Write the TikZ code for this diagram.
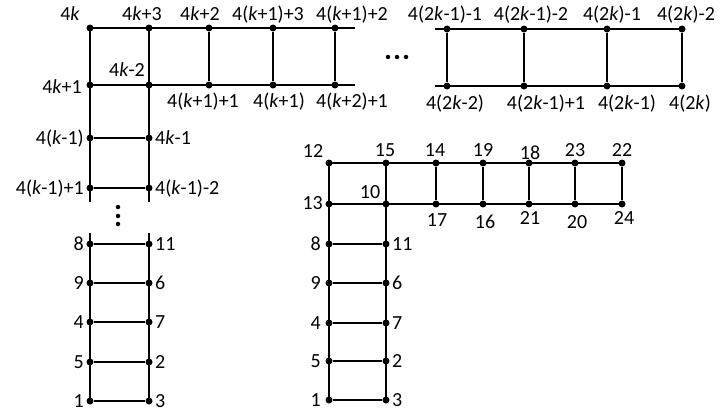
\documentclass[tikz,border=0pt]{standalone}
\usepackage{fontspec}
\setmainfont{Carlito}
\begin{document}
\tikzset{
  dot/.style={circle,fill=black,inner sep=0pt,minimum size=7pt},
  smalldot/.style={circle,fill=black,inner sep=0pt,minimum size=4.5pt},
  lab/.style={inner sep=0pt,text height=12.8pt,text depth=0pt,font=\fontsize{20}{23}\selectfont},
  labL/.style={lab,anchor=east},
  labR/.style={lab,anchor=west},
  edge/.style={line width=2pt,black},
}
\newcommand{\kk}{\textit{k}}
\begin{tikzpicture}[x=1pt,y=-1pt]
\useasboundingbox (0,0) rectangle (720,415);

% ---------- upper-left big figure ----------
\node[dot] (L0t) at (90,28) {};
\node[dot] (L1t) at (149,28) {};
\node[dot] (L2t) at (209,28) {};
\node[dot] (L3t) at (273,28) {};
\node[dot] (L4t) at (335,28) {};
\coordinate (LtE) at (355,28);
\node[dot] (L0b) at (90,85) {};
\node[dot] (L1b) at (149,85) {};
\node[dot] (L2b) at (209,85) {};
\node[dot] (L3b) at (273,85) {};
\node[dot] (L4b) at (335,85) {};
\coordinate (LbE) at (355,85);
\node[dot] (Lc1a) at (90,138) {};
\node[dot] (Lc1b) at (149,138) {};
\node[dot] (Lc2a) at (90,188) {};
\node[dot] (Lc2b) at (149,188) {};
\coordinate (LeA) at (90,202);
\coordinate (LeB) at (149,202);

\draw[edge] (L0t.center) -- (LtE);
\draw[edge] (L0b.center) -- (LbE);
\draw[edge] (L0t.center) -- (LeA);
\draw[edge] (L1t.center) -- (LeB);
\draw[edge] (L2t) -- (L2b);
\draw[edge] (L3t) -- (L3b);
\draw[edge] (L4t) -- (L4b);
\draw[edge] (Lc1a) -- (Lc1b);
\draw[edge] (Lc2a) -- (Lc2b);

\node[lab] (tA) at (70,14) {4\kk};
\node[lab] (tB) at (142,14) {4\kk+3};
\node[lab] (tC) at (200,14) {4\kk+2};
\node[lab] (tD) at (268,14) {4(\kk+1)+3};
\node[lab] (tE) at (352,14) {4(\kk+1)+2};
\node[lab] (bC) at (203,101) {4(\kk+1)+1};
\node[lab] (bD) at (279,101) {4(\kk+1)};
\node[lab] (bE) at (352,101) {4(\kk+2)+1};
\node[lab] (m4k2) at (127,70) {4\kk-2};
\node[labL] (m4k1) at (82,87) {4\kk+1};
\node[labL] (c1a) at (84,138) {4(\kk-1)};
\node[labR] (c1b) at (155,138) {4\kk-1};
\node[labL] (c2a) at (84,188) {4(\kk-1)+1};
\node[labR] (c2b) at (155,188) {4(\kk-1)-2};

% vertical ellipsis
\node[smalldot] (v1) at (118,207) {};
\node[smalldot] (v2) at (118,216) {};
\node[smalldot] (v3) at (118,224) {};
% horizontal ellipsis
\node[smalldot] (h1) at (388,57) {};
\node[smalldot] (h2) at (397,57) {};
\node[smalldot] (h3) at (406,57) {};

% ---------- upper-right block ----------
\coordinate (Rts) at (435,29);
\node[dot] (R1t) at (447,29) {};
\node[dot] (R2t) at (524,29) {};
\node[dot] (R3t) at (607,29) {};
\node[dot] (R4t) at (682,29) {};
\coordinate (Rbs) at (435,86);
\node[dot] (R1b) at (447,86) {};
\node[dot] (R2b) at (524,86) {};
\node[dot] (R3b) at (607,86) {};
\node[dot] (R4b) at (682,86) {};
\draw[edge] (Rts) -- (R4t.center);
\draw[edge] (Rbs) -- (R4b.center);
\draw[edge] (R1t) -- (R1b);
\draw[edge] (R2t) -- (R2b);
\draw[edge] (R3t) -- (R3b);
\draw[edge] (R4t) -- (R4b);

\node[lab] (rt1) at (445,14) {4(2\kk-1)-1};
\node[lab] (rt2) at (531,14) {4(2\kk-1)-2};
\node[lab] (rt3) at (612,14) {4(2\kk)-1};
\node[lab] (rt4) at (686,14) {4(2\kk)-2};
\node[lab] (rb1) at (455,103) {4(2\kk-2)};
\node[lab] (rb2) at (546,103) {4(2\kk-1)+1};
\node[lab] (rb3) at (627,103) {4(2\kk-1)};
\node[lab] (rb4) at (690,103) {4(2\kk)};

% ---------- lower-left ladder ----------
\coordinate (QsA) at (90,233);
\coordinate (QsB) at (149,233);
\foreach \i/\y in {1/244,2/283,3/322,4/362,5/401}{
  \node[dot] (Q\i a) at (90,\y) {};
  \node[dot] (Q\i b) at (149,\y) {};
  \draw[edge] (Q\i a) -- (Q\i b);
}
\draw[edge] (QsA) -- (Q5a.center);
\draw[edge] (QsB) -- (Q5b.center);
\foreach \i/\y/\l/\r in {1/244/8/11,2/283/9/6,3/322/4/7,4/362/5/2,5/401/1/3}{
  \node[labL] (Ql\i) at (84,\y) {\l};
  \node[labR] (Qr\i) at (155,\y) {\r};
}

% ---------- middle figure ----------
\node[dot] (Ma) at (329,163) {};
\node[dot] (Mb) at (386,163) {};
\node[dot] (Ma2) at (329,204) {};
\node[dot] (Mb2) at (386,204) {};
\foreach \i/\x in {3/436,4/483,5/529,6/575,7/622}{
  \node[dot] (M\i t) at (\x,163) {};
  \node[dot] (M\i b) at (\x,204) {};
  \draw[edge] (M\i t) -- (M\i b);
}
\draw[edge] (Ma.center) -- (M7t.center);
\draw[edge] (Ma2.center) -- (M7b.center);
\foreach \i/\y in {1/244,2/283,3/323,4/361,5/400}{
  \node[dot] (Mr\i a) at (329,\y) {};
  \node[dot] (Mr\i b) at (386,\y) {};
  \draw[edge] (Mr\i a) -- (Mr\i b);
}
\draw[edge] (Ma.center) -- (Mr5a.center);
\draw[edge] (Mb.center) -- (Mr5b.center);

\node[lab] (m12) at (313,151) {12};
\node[lab] (m15) at (385,150) {15};
\node[lab] (m14) at (435,150) {14};
\node[lab] (m19) at (483,150) {19};
\node[lab] (m18) at (530,153) {18};
\node[lab] (m23) at (575,150) {23};
\node[lab] (m22) at (622,150) {22};
\node[lab] (m10) at (370,192) {10};
\node[labL] (m13) at (323,203) {13};
\node[lab] (m17) at (437,220) {17};
\node[lab] (m16) at (485,222) {16};
\node[lab] (m21) at (530,218) {21};
\node[lab] (m20) at (577,222) {20};
\node[lab] (m24) at (624,218) {24};
\foreach \i/\y/\l/\r in {1/244/8/11,2/283/9/6,3/323/4/7,4/361/5/2,5/400/1/3}{
  \node[labL] (Ml\i) at (321,\y) {\l};
  \node[labR] (Mrl\i) at (392,\y) {\r};
}
\end{tikzpicture}
\end{document}
